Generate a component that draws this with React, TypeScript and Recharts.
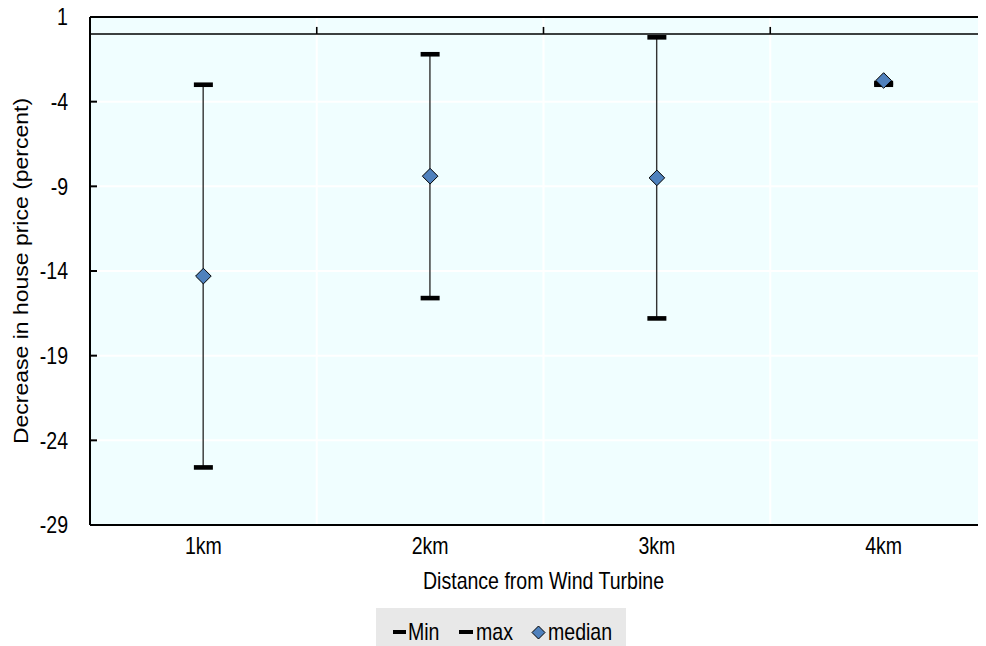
import React from 'react';
import {
  ComposedChart,
  XAxis,
  YAxis,
  CartesianGrid,
  Bar,
  Scatter,
  ReferenceLine,
  Legend,
} from 'recharts';

const categories = ['1km', '2km', '3km', '4km'];
const minValues = [-25.6, -15.6, -16.8, -3.0];
const maxValues = [-3.0, -1.2, -0.2, -2.9];
const medianValues = [-14.3, -8.4, -8.5, -2.75];
const yTicks = [-29, -24, -19, -14, -9, -4, 1];
const legendLabels = ['Min', 'max', 'median'];

const FONT = "'Liberation Sans', Arial, sans-serif";
const FS = 23;
const SX = 0.85;

const data = categories.map((cat, i) => ({
  cat,
  min: minValues[i],
  max: maxValues[i],
  median: medianValues[i],
  range: [minValues[i], maxValues[i]],
}));

const NarrowText = ({ x, y, anchor, children, dy }: any) => (
  <text
    transform={`translate(${x} ${y}) scale(${SX} 1)`}
    x={0}
    y={0}
    dy={dy}
    textAnchor={anchor}
    fontFamily={FONT}
    fontSize={FS}
    fill="#000"
  >
    {children}
  </text>
);

const YTick = (props: any) => {
  const { x, y, payload } = props;
  return (
    <g>
      <NarrowText x={x} y={y} dy="0.36em" anchor="end">
        {payload.value}
      </NarrowText>
      <line x1={x + 22} x2={x + 29} y1={y} y2={y} stroke="#000" strokeWidth={2} />
    </g>
  );
};

const XTick = (props: any) => {
  const { x, y, payload } = props;
  return (
    <NarrowText x={x} y={y} dy="0.72em" anchor="middle">
      {payload.value}
    </NarrowText>
  );
};

const RangeLine = (props: any) => {
  const { x, y, width, height } = props;
  const cx = x + width / 2;
  const top = Math.min(y, y + height);
  const bot = Math.max(y, y + height);
  return <line x1={cx} x2={cx} y1={top} y2={bot} stroke="#333" strokeWidth={1.4} />;
};

const Cap = (props: any) => {
  const { cx, cy } = props;
  if (cx == null || cy == null) return null;
  return <rect x={cx - 9.5} y={cy - 2.3} width={19} height={4.6} fill="#000" />;
};

const Diamond = (props: any) => {
  const { cx, cy } = props;
  if (cx == null || cy == null) return null;
  const r = 7.8;
  return (
    <polygon
      points={`${cx},${cy - r} ${cx + r},${cy} ${cx},${cy + r} ${cx - r},${cy}`}
      fill="#4F81BD"
      stroke="#000"
      strokeWidth={1}
    />
  );
};

const ZeroLine = (props: any) => {
  const { x1, x2, y1 } = props;
  const w = x2 - x1;
  return (
    <g>
      <line x1={x1} x2={x2} y1={y1} y2={y1} stroke="#000" strokeWidth={1.6} />
      {[1, 2, 3].map((i) => (
        <line key={i} x1={x1 + (w * i) / 4} x2={x1 + (w * i) / 4} y1={y1} y2={y1 - 7} stroke="#000" strokeWidth={1.6} />
      ))}
    </g>
  );
};

const LegendBox = () => (
  <svg width={250} height={46} style={{ display: 'block' }}>
    <rect x={0} y={0} width={250} height={46} fill="#e8e8e8" />
    <rect x={17} y={22} width={13} height={4} fill="#000" />
    <NarrowText x={32} y={32} anchor="start">{legendLabels[0]}</NarrowText>
    <rect x={83} y={22} width={14} height={4} fill="#000" />
    <NarrowText x={100} y={32} anchor="start">{legendLabels[1]}</NarrowText>
    <polygon points="162.5,18 169,24.5 162.5,31 156,24.5" fill="#4F81BD" stroke="#000" strokeWidth={1} />
    <NarrowText x={172} y={32} anchor="start">{legendLabels[2]}</NarrowText>
  </svg>
);

export default function App() {
  return (
    <div style={{ width: 978, height: 638, overflow: 'hidden', position: 'relative' }}>
      <style>{'html,body{overflow:hidden}'}</style>
      <ComposedChart
        width={1000}
        height={640}
        data={data}
        margin={{ top: 9, right: 11, bottom: 63, left: 0 }}
        style={{ overflow: 'visible' }}
      >
        <CartesianGrid
          fill="#F0FEFF"
          stroke="#ffffff"
          strokeWidth={2}
          verticalCoordinatesGenerator={({ offset }: any) =>
            [1, 2, 3].map((i) => offset.left + (i * offset.width) / 4)
          }
        />
        <XAxis
          dataKey="cat"
          height={60}
          tickLine={false}
          tickSize={0}
          tickMargin={12}
          axisLine={{ stroke: '#000', strokeWidth: 2 }}
          tick={<XTick />}
          label={{
            content: ({ viewBox }: any) => (
              <NarrowText x={viewBox.x + viewBox.width / 2} y={viewBox.y + 64} anchor="middle">
                Distance from Wind Turbine
              </NarrowText>
            ),
          }}
        />
        <YAxis
          width={82}
          domain={[-29, 1]}
          ticks={yTicks}
          interval={0}
          tickLine={false}
          tickSize={0}
          tickMargin={22}
          axisLine={{ stroke: '#000', strokeWidth: 2 }}
          tick={<YTick />}
          label={{
            content: ({ viewBox }: any) => {
              const cx = 20;
              const cy = viewBox.y + viewBox.height / 2;
              return (
                <text
                  transform={`translate(${cx} ${cy}) rotate(-90) scale(1 ${SX})`}
                  x={0}
                  y={0}
                  textAnchor="middle"
                  fontFamily={FONT}
                  fontSize={FS}
                  fill="#000"
                >
                  Decrease in house price (percent)
                </text>
              );
            },
          }}
        />
        <ReferenceLine y={1} stroke="#000" strokeWidth={2} />
        <ReferenceLine y={0} shape={(p: any) => <ZeroLine {...p} />} />
        <Bar dataKey="range" shape={(p: any) => <RangeLine {...p} />} isAnimationActive={false} legendType="none" />
        <Scatter dataKey="min" name="Min" shape={(p: any) => <Cap {...p} />} isAnimationActive={false} />
        <Scatter dataKey="max" name="max" shape={(p: any) => <Cap {...p} />} isAnimationActive={false} />
        <Scatter dataKey="median" name="median" shape={(p: any) => <Diamond {...p} />} isAnimationActive={false} />
        <Legend
          layout="horizontal"
          verticalAlign="middle"
          align="center"
          wrapperStyle={{ left: 368, top: 600, width: 250, height: 46, right: 'auto', bottom: 'auto' }}
          content={() => <LegendBox />}
        />
      </ComposedChart>
    </div>
  );
}
